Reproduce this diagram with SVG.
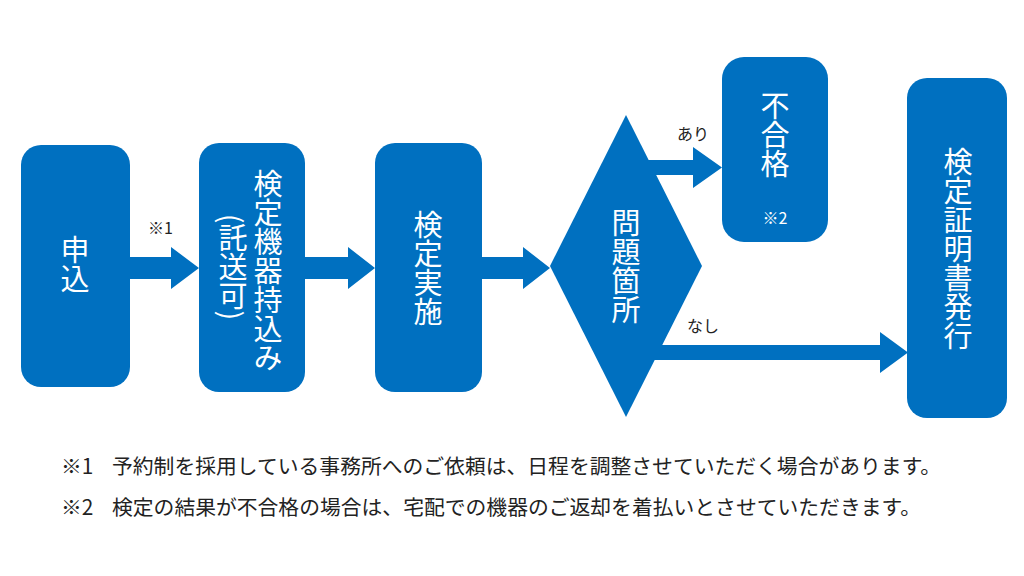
<svg xmlns="http://www.w3.org/2000/svg" width="1024" height="576" viewBox="0 0 1024 576">
<style>
.box{fill:#0070C0}
.arr{fill:#0070C0}
.vt{font-family:"Noto Sans CJK JP","Noto Sans",sans-serif;font-size:29px;fill:#ffffff;writing-mode:vertical-rl;text-anchor:middle}
.lbl{font-family:"Noto Sans CJK JP","Noto Sans",sans-serif;font-size:16px;fill:#222222}
.note{font-family:"Noto Sans CJK JP","Noto Sans",sans-serif;font-size:20.8px;fill:#222222}
</style>
<rect width="1024" height="576" fill="#ffffff"/>
<g id="connectors">
<polygon class="arr" points="130,257 171,257 171,247 199,268 171,289 171,279 130,279"/>
<polygon class="arr" points="305,257 348,257 348,247 375,268 348,289 348,279 305,279"/>
<polygon class="arr" points="482,257 523,257 523,247 550,268 523,289 523,279 482,279"/>
<polygon class="arr" points="640,160 693,160 693,147 722,167.5 693,188 693,175 640,175"/>
<polygon class="arr" points="650,345 880,345 880,332 908,352.5 880,373 880,360 650,360"/>
<text class="lbl" x="148" y="234">※1</text>
<text class="lbl" x="677" y="140">あり</text>
<text class="lbl" x="687" y="332">なし</text>
</g>
<g id="node-apply">
<rect class="box" x="21" y="145" width="109" height="242" rx="20"/>
<text class="vt" x="75" y="264">申込</text>
</g>
<g id="node-bring">
<rect class="box" x="199" y="143" width="106" height="249" rx="20"/>
<text class="vt" x="268" y="271">検定機器持込み</text>
<text class="vt" x="233" y="267">(託送可)</text>
</g>
<g id="node-inspect">
<rect class="box" x="375" y="143" width="107" height="249" rx="20"/>
<text class="vt" x="428" y="268">検定実施</text>
</g>
<g id="node-problem">
<polygon class="box" points="626,115 702,266 626,417 550,266"/>
<text class="vt" x="626" y="266">問題箇所</text>
</g>
<g id="node-fail">
<rect class="box" x="722" y="57" width="106" height="185" rx="22"/>
<text class="vt" x="775" y="135">不合格</text>
<text class="lbl" x="775" y="224" text-anchor="middle" fill="#ffffff" style="fill:#ffffff">※2</text>
</g>
<g id="node-cert">
<rect class="box" x="907" y="78" width="100" height="340" rx="20"/>
<text class="vt" x="958" y="249">検定証明書発行</text>
</g>
<g id="notes">
<text class="note" x="61" y="474">※1</text>
<text class="note" x="112" y="474">予約制を採用している事務所へのご依頼は、日程を調整させていただく場合があります。</text>
<text class="note" x="61" y="515">※2</text>
<text class="note" x="112" y="515">検定の結果が不合格の場合は、宅配での機器のご返却を着払いとさせていただきます。</text>
</g>
</svg>
